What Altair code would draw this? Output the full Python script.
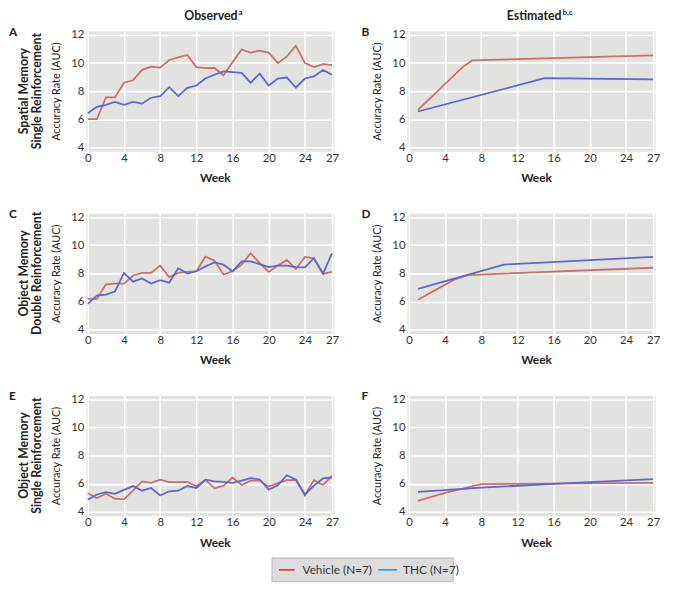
import altair as alt
import pandas as pd

# ---------------- data ----------------
weeks = list(range(28))
x_ticks = [0, 4, 8, 12, 16, 20, 24, 27]
y_ticks = [4, 6, 8, 10, 12]
series_names = ["Vehicle", "THC"]

# Observed (panels A, C, E)
a_vehicle = [6.0, 6.0, 7.55, 7.55, 8.6, 8.77, 9.52, 9.75, 9.68, 10.22, 10.41, 10.58, 9.71, 9.64,
             9.65, 9.13, 10.05, 10.97, 10.74, 10.88, 10.74, 10.0, 10.46, 11.23, 10.0, 9.71, 9.93, 9.86]
a_thc = [6.43, 6.88, 7.02, 7.23, 7.02, 7.23, 7.11, 7.53, 7.65, 8.28, 7.65, 8.23, 8.4, 8.9,
         9.17, 9.4, 9.36, 9.3, 8.6, 9.25, 8.4, 8.9, 8.97, 8.25, 8.9, 9.05, 9.5, 9.17]
c_vehicle = [6.18, 6.18, 7.22, 7.27, 7.27, 7.85, 8.03, 8.03, 8.55, 7.73, 8.03, 8.1, 8.15, 9.19,
             8.9, 7.92, 8.15, 8.62, 9.43, 8.73, 8.1, 8.55, 8.96, 8.31, 9.17, 9.05, 7.96, 8.1]
c_thc = [5.83, 6.41, 6.48, 6.71, 8.03, 7.41, 7.64, 7.27, 7.52, 7.34, 8.36, 7.99, 8.15, 8.5,
         8.78, 8.62, 8.15, 8.85, 8.85, 8.66, 8.45, 8.55, 8.55, 8.45, 8.43, 9.08, 7.99, 9.43]
e_vehicle = [5.32, 4.98, 5.28, 4.93, 4.88, 5.5, 6.16, 6.06, 6.29, 6.11, 6.11, 6.13, 5.81, 6.27,
             5.67, 5.86, 6.44, 5.91, 6.21, 6.21, 5.79, 6.04, 6.25, 6.27, 5.16, 6.25, 5.91, 6.56]
e_thc = [4.86, 5.23, 5.39, 5.28, 5.56, 5.83, 5.5, 5.69, 5.16, 5.46, 5.5, 5.83, 5.69, 6.28,
         6.16, 6.13, 6.06, 6.21, 6.39, 6.3, 5.58, 5.88, 6.6, 6.3, 5.23, 5.86, 6.37, 6.44]

# Estimated (panels B, D, F)
b_vehicle_weeks = [1, 6, 7, 15, 27]
b_vehicle = [6.67, 9.75, 10.19, 10.33, 10.55]
b_thc_weeks = [1, 15, 27]
b_thc = [6.55, 8.92, 8.84]
d_vehicle_weeks = [1, 5, 6.5, 27]
d_vehicle = [6.12, 7.55, 7.88, 8.4]
d_thc_weeks = [1, 10.5, 27]
d_thc = [6.9, 8.63, 9.17]
f_vehicle_weeks = [1, 4, 8, 27]
f_vehicle = [4.78, 5.35, 5.97, 6.05]
f_thc_weeks = [1, 8, 16, 27]
f_thc = [5.42, 5.72, 5.98, 6.33]

row_titles = [["Spatial Memory", "Single Reinforcement"],
              ["Object Memory", "Double Reinforcement"],
              ["Object Memory", "Single Reinforcement"]]
letters = ["A", "B", "C", "D", "E", "F"]
legend_labels = ["Vehicle (N=7)", "THC (N=7)"]

# ---------------- style ----------------
VEH = "#c8716b"
THC = "#5b69cb"
VEH_LEG = "#e0241f"
THC_LEG = "#1c8fe0"
FONT = "Lato"
W, H = 252, 122

xscale = alt.Scale(domain=[-0.22, 27.22], nice=False, zero=False)
yscale = alt.Scale(domain=[3.72, 12.28], nice=False, zero=False)
cscale = alt.Scale(domain=series_names, range=[VEH, THC])


def one_text(txt, x, y, size, weight="normal", angle=0, align="left", baseline="middle", color="#222222"):
    kw = dict(font=FONT, fontSize=size, fontWeight=weight, align=align, baseline=baseline, color=color)
    if angle:
        kw["angle"] = angle
    return alt.Chart(pd.DataFrame({"t": [txt]})).mark_text(**kw).encode(
        text="t:N", x=alt.value(x), y=alt.value(y))


def panel(vw, vv, tw, tv, letter, left, row=None, col=None, legend=False):
    xaxis = alt.Axis(values=x_ticks, tickCount=8, title="Week", titleX=131, titleY=27,
                     titleBaseline="middle", titleFontWeight="bold", titleFontSize=12,
                     labelFlush=False, labelOverlap=False, labelPadding=1)
    yaxis = alt.Axis(values=y_ticks, tickCount=5, title="Accuracy Rate (AUC)", titleX=-30, titleY=H / 2,
                     titleBaseline="middle", titleFontWeight="normal", titleFontSize=11,
                     labelFlush=False, labelOverlap=False)
    df = pd.DataFrame({
        "week": list(vw) + list(tw),
        "value": list(vv) + list(tv),
        "series": [series_names[0]] * len(vw) + [series_names[1]] * len(tw),
    })
    lines = alt.Chart(df).mark_line(strokeWidth=1.8).encode(
        x=alt.X("week:Q", scale=xscale, axis=xaxis),
        y=alt.Y("value:Q", scale=yscale, axis=yaxis),
        color=alt.Color("series:N", scale=cscale, legend=None),
        detail="series:N")
    layers = [lines]
    layers.append(one_text(letter, -78 if left else -46, 1, 12, weight="bold"))
    if row:
        layers.append(one_text(row[0], -63, H / 2, 12.5, weight="bold", angle=270, align="center"))
        layers.append(one_text(row[1], -49, H / 2, 12.5, weight="bold", angle=270, align="center"))
    if col:
        main, sup, xr = col
        layers.append(one_text(main, xr, -15, 12.5, weight="bold", align="right"))
        layers.append(one_text(sup, xr + 1, -18, 8, weight="bold", align="left"))
    if legend:
        box = alt.Chart(pd.DataFrame({"t": [""]})).mark_rect(
            fill="#dcdcdc", stroke="#b8b8b8", strokeWidth=1).encode(
            x=alt.value(189), x2=alt.value(373), y=alt.value(165), y2=alt.value(189))
        r1 = alt.Chart(pd.DataFrame({"t": [""]})).mark_rule(color=VEH_LEG, strokeWidth=1.5).encode(
            x=alt.value(196), x2=alt.value(212), y=alt.value(177))
        r2 = alt.Chart(pd.DataFrame({"t": [""]})).mark_rule(color=THC_LEG, strokeWidth=1.5).encode(
            x=alt.value(297), x2=alt.value(316), y=alt.value(177))
        layers += [box, r1, r2,
                   one_text(legend_labels[0], 220, 177, 12, color="#333333"),
                   one_text(legend_labels[1], 322, 177, 12, color="#333333")]
    return alt.layer(*layers).properties(width=W, height=H)


pA = panel(weeks, a_vehicle, weeks, a_thc, letters[0], True, row=row_titles[0],
           col=("Observed", "a", 154))
pB = panel(b_vehicle_weeks, b_vehicle, b_thc_weeks, b_thc, letters[1], False,
           col=("Estimated", "b,c", 157))
pC = panel(weeks, c_vehicle, weeks, c_thc, letters[2], True, row=row_titles[1])
pD = panel(d_vehicle_weeks, d_vehicle, d_thc_weeks, d_thc, letters[3], False)
pE = panel(weeks, e_vehicle, weeks, e_thc, letters[4], True, row=row_titles[2], legend=True)
pF = panel(f_vehicle_weeks, f_vehicle, f_thc_weeks, f_thc, letters[5], False)

chart = alt.concat(pA, pB, pC, pD, pE, pF, columns=2,
                   spacing={"row": 63, "column": 74}, bounds="flush").properties(
    padding={"left": 0, "top": -4, "right": 4, "bottom": 0}
).configure_axis(
    gridColor="white", gridWidth=1.6, domain=False, ticks=False,
    labelFont=FONT, labelFontSize=11.5, labelColor="#333333", labelPadding=2,
    titleFont=FONT, titleColor="#222222"
).configure_view(fill="#e2e2e0", stroke="transparent")

chart.save("out.html", embed_options={"renderer": "svg", "actions": False})
